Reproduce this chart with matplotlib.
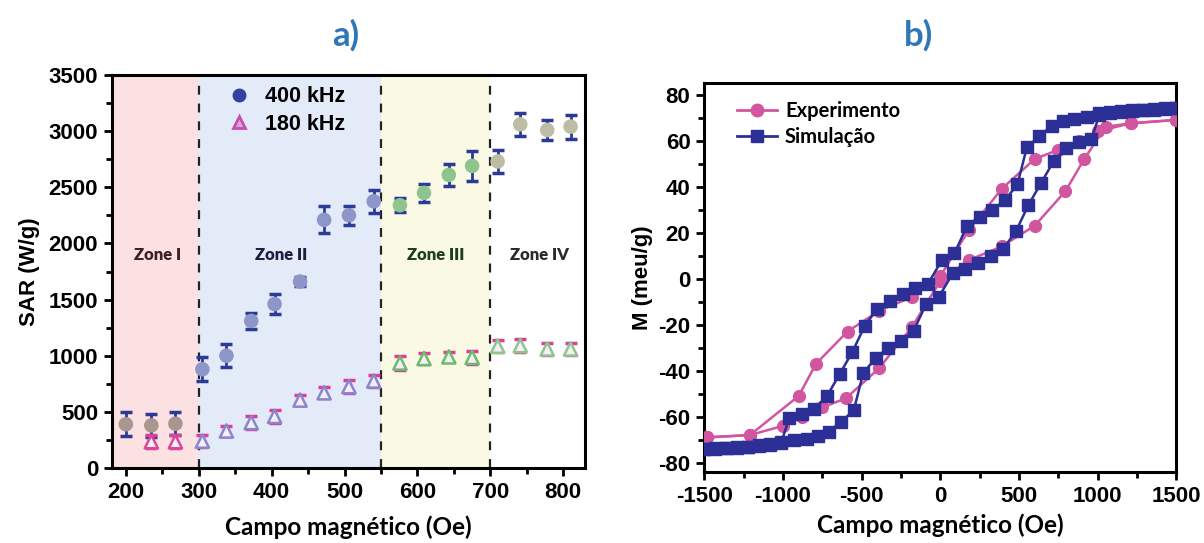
import numpy as np
import matplotlib.pyplot as plt
from matplotlib.lines import Line2D
from matplotlib.ticker import MultipleLocator

# ---- a) SAR vs campo magnético ----
field_400 = [200, 235, 268, 305, 338, 372, 404, 439, 472, 506, 540, 576, 609, 643, 675, 710, 741, 778, 810]
sar_400 = [390, 380, 395, 880, 1000, 1310, 1460, 1660, 2210, 2250, 2375, 2340, 2450, 2610, 2690, 2730, 3060, 3010, 3040]
err_400 = [105, 105, 105, 108, 104, 74, 89, 40, 119, 82, 104, 64, 82, 96, 133, 104, 104, 93, 107]

field_180 = [235, 268, 305, 338, 372, 404, 439, 472, 506, 540, 576, 609, 643, 675, 710, 741, 778, 810]
sar_180 = [235, 235, 240, 330, 405, 460, 605, 670, 725, 775, 935, 975, 990, 985, 1085, 1090, 1060, 1060]
err_180 = [55, 55, 55, 45, 55, 60, 45, 50, 55, 55, 60, 50, 45, 55, 55, 60, 50, 50]

zone_edges = [300, 550, 700]
zone_names = ["Zone I", "Zone II", "Zone III", "Zone IV"]
zone_label_x = [243, 413, 625, 768]

# ---- b) ciclo de histerese ----
exp_h_down = [1500, 1210, 1000, 880, 750, 600, 390, 180, 0, -180, -390, -590, -790, -900, -1210, -1480]
exp_m_down = [69, 67.5, 64, 60, 56, 52, 39, 21, 1, -8, -14, -23, -37, -51, -68, -69]
exp_h_up = [-1480, -1210, -1000, -880, -750, -600, -390, -180, 0, 180, 390, 600, 795, 915, 1050, 1210, 1500]
exp_m_up = [-69, -68, -64, -60, -56, -52, -39, -21, -1, 8, 14, 23, 38, 52, 66, 67.5, 69]

sim_h_down = [1500, 1430, 1360, 1290, 1220, 1150, 1080, 1010, 930, 850, 780, 710, 630, 550, 490, 410,
              330, 250, 170, 90, 10, -80, -160, -240, -320, -400, -480, -560, -640, -720, -800, -880,
              -960, -1010, -1080, -1150, -1220, -1290, -1360, -1430, -1500]
sim_m_down = [74, 74, 73.8, 73.5, 73.2, 72.8, 72.3, 71.8, 70.4, 69.5, 68.5, 66.5, 62, 57, 41, 34,
              30, 27, 23, 11, 8, -2.4, -4, -6.5, -9.7, -13, -20.5, -32, -41.5, -51, -56.5, -59,
              -60.5, -71, -72, -72.5, -73, -73.3, -73.5, -73.8, -74]
sim_h_up = [-1500, -1430, -1360, -1290, -1220, -1150, -1080, -1010, -930, -850, -780, -710, -630, -550,
            -490, -410, -330, -250, -170, -90, -10, 80, 160, 240, 320, 400, 480, 560, 640, 720, 800,
            880, 960, 1010, 1080, 1150, 1220, 1290, 1360, 1430, 1500]
sim_m_up = [-74, -74, -73.8, -73.5, -73.2, -72.8, -72.3, -71.6, -70.2, -69.5, -68.5, -66.6, -62.2, -57.2,
            -41, -34.5, -30, -27, -22.7, -11, -8, 2.4, 4, 6.7, 9.7, 13, 20.5, 32, 41.5, 51, 56.8,
            59.5, 60.5, 71, 72, 72.5, 73, 73.3, 73.5, 73.8, 74]

TICK_FONT = "Liberation Sans"
CAL_FONT = "Lato"

plt.rcParams["font.family"] = TICK_FONT
plt.rcParams["font.weight"] = "bold"
plt.rcParams["axes.unicode_minus"] = False

fig = plt.figure(figsize=(12.04, 5.43), dpi=100)
ax1 = fig.add_axes([0.093, 0.138, 0.393, 0.724])
ax2 = fig.add_axes([0.585, 0.131, 0.392, 0.716])


def style_axes(ax):
    for sp in ax.spines.values():
        sp.set_linewidth(2.2)
    ax.tick_params(which="both", direction="out", width=2, top=False, right=False,
                   labelsize=16, pad=4)
    ax.tick_params(which="major", length=6)
    ax.tick_params(which="minor", length=4)
    for lab in ax.get_xticklabels() + ax.get_yticklabels():
        lab.set_fontweight("bold")


# ---------- panel a ----------
ax1.set_xlim(181, 830)
ax1.set_ylim(0, 3500)
bounds = [181] + zone_edges + [830]
zone_bg = ["#fbe1e1", "#e4ebf8", "#fafae4", "#ffffff"]
for i in range(4):
    ax1.axvspan(bounds[i], bounds[i + 1], color=zone_bg[i], zorder=0, lw=0)
for xe in zone_edges:
    ax1.axvline(xe, color="#222222", ls=(0, (4, 4)), lw=1.6, zorder=1)

zone_txt = ["#3e2222", "#1d1d40", "#1e3f1e", "#2a2a2a"]
for name, xl, c in zip(zone_names, zone_label_x, zone_txt):
    ax1.text(xl, 1900, name, ha="center", va="center", fontsize=12,
             family=CAL_FONT, fontweight="heavy", color=c, zorder=2)

circ_cols = ["#a9978f", "#8d95c9", "#8fc48f", "#bdbda6"]
tri_cols = ["#d9479a", "#8b86cc", "#6dbb6d", "#8fc48f"]

z400 = np.digitize(field_400, zone_edges)
z400[np.array(field_400) == 540] = 1
ax1.errorbar(field_400, sar_400, yerr=err_400, fmt="none", ecolor="#2b3a96",
             elinewidth=2, capsize=4.5, capthick=2.5, zorder=3)
ax1.scatter(field_400, sar_400, s=110, c=[circ_cols[z] for z in z400],
            edgecolors="none", zorder=4)

z180 = np.digitize(field_180, zone_edges)
ax1.errorbar(field_180, sar_180, yerr=err_180, fmt="none", ecolor="#dc3f98",
             elinewidth=2, capsize=4.5, capthick=2.5, zorder=3)
ax1.scatter(field_180, sar_180, s=90, marker="^", facecolors="#f4eef6",
            edgecolors=[tri_cols[z] for z in z180], linewidths=1.8, zorder=4)

ax1.xaxis.set_major_locator(MultipleLocator(100))
ax1.xaxis.set_minor_locator(MultipleLocator(50))
ax1.yaxis.set_major_locator(MultipleLocator(500))
ax1.yaxis.set_minor_locator(MultipleLocator(250))
style_axes(ax1)
ax1.set_ylabel("SAR (W/g)", fontsize=16, fontweight="bold", labelpad=6)
ax1.set_xlabel("Campo magnético (Oe)", fontsize=17.5, family=CAL_FONT,
               fontweight="bold", labelpad=9)

h400 = Line2D([], [], ls="none", marker="o", ms=9, color="#3242a0")
h180 = Line2D([], [], ls="none", marker="^", ms=9, markerfacecolor="#d9a6dc",
              markeredgecolor="#c44fb0", markeredgewidth=2)
leg1 = ax1.legend([h400, h180], ["400 kHz", "180 kHz"], loc="upper left",
                  bbox_to_anchor=(0.2, 1.02), frameon=False, fontsize=15.5,
                  handletextpad=0.6, labelspacing=0.3, handlelength=1.2)
for t in leg1.get_texts():
    t.set_fontweight("bold")

# ---------- panel b ----------
ax2.plot(exp_h_down, exp_m_down, "-o", color="#d2559f", lw=1.8, ms=8.5, zorder=3)
ax2.plot(exp_h_up, exp_m_up, "-o", color="#d2559f", lw=1.8, ms=8.5, zorder=3)
ax2.plot(sim_h_down, sim_m_down, "-s", color="#2b2f96", lw=1.8, ms=8.5, zorder=4)
ax2.plot(sim_h_up, sim_m_up, "-s", color="#2b2f96", lw=1.8, ms=8.5, zorder=4)
ax2.set_xlim(-1500, 1500)
ax2.set_ylim(-84, 85)
ax2.xaxis.set_major_locator(MultipleLocator(500))
ax2.xaxis.set_minor_locator(MultipleLocator(250))
ax2.yaxis.set_major_locator(MultipleLocator(20))
ax2.yaxis.set_minor_locator(MultipleLocator(10))
style_axes(ax2)
ax2.set_ylabel("M (meu/g)", fontsize=16, fontweight="bold", labelpad=4)
ax2.set_xlabel("Campo magnético (Oe)", fontsize=17.5, family=CAL_FONT,
               fontweight="bold", labelpad=5)

he = Line2D([], [], marker="o", ms=9, color="#d2559f", lw=2)
hs = Line2D([], [], marker="s", ms=9, color="#2b2f96", lw=2)
leg2 = ax2.legend([he, hs], ["Experimento", "Simulação"], loc="upper left",
                  bbox_to_anchor=(0.03, 1.0), frameon=False, fontsize=14.5,
                  handlelength=2.0, handletextpad=0.4, labelspacing=0.3)
for t in leg2.get_texts():
    t.set_family(CAL_FONT)
    t.set_fontweight("bold")

fig.text(0.287, 0.935, "a)", ha="center", va="center", fontsize=25,
         family=CAL_FONT, fontweight="bold", color="#2f77b9")
fig.text(0.763, 0.935, "b)", ha="center", va="center", fontsize=25,
         family=CAL_FONT, fontweight="bold", color="#2f77b9")

fig.savefig("out.png", dpi=100)
